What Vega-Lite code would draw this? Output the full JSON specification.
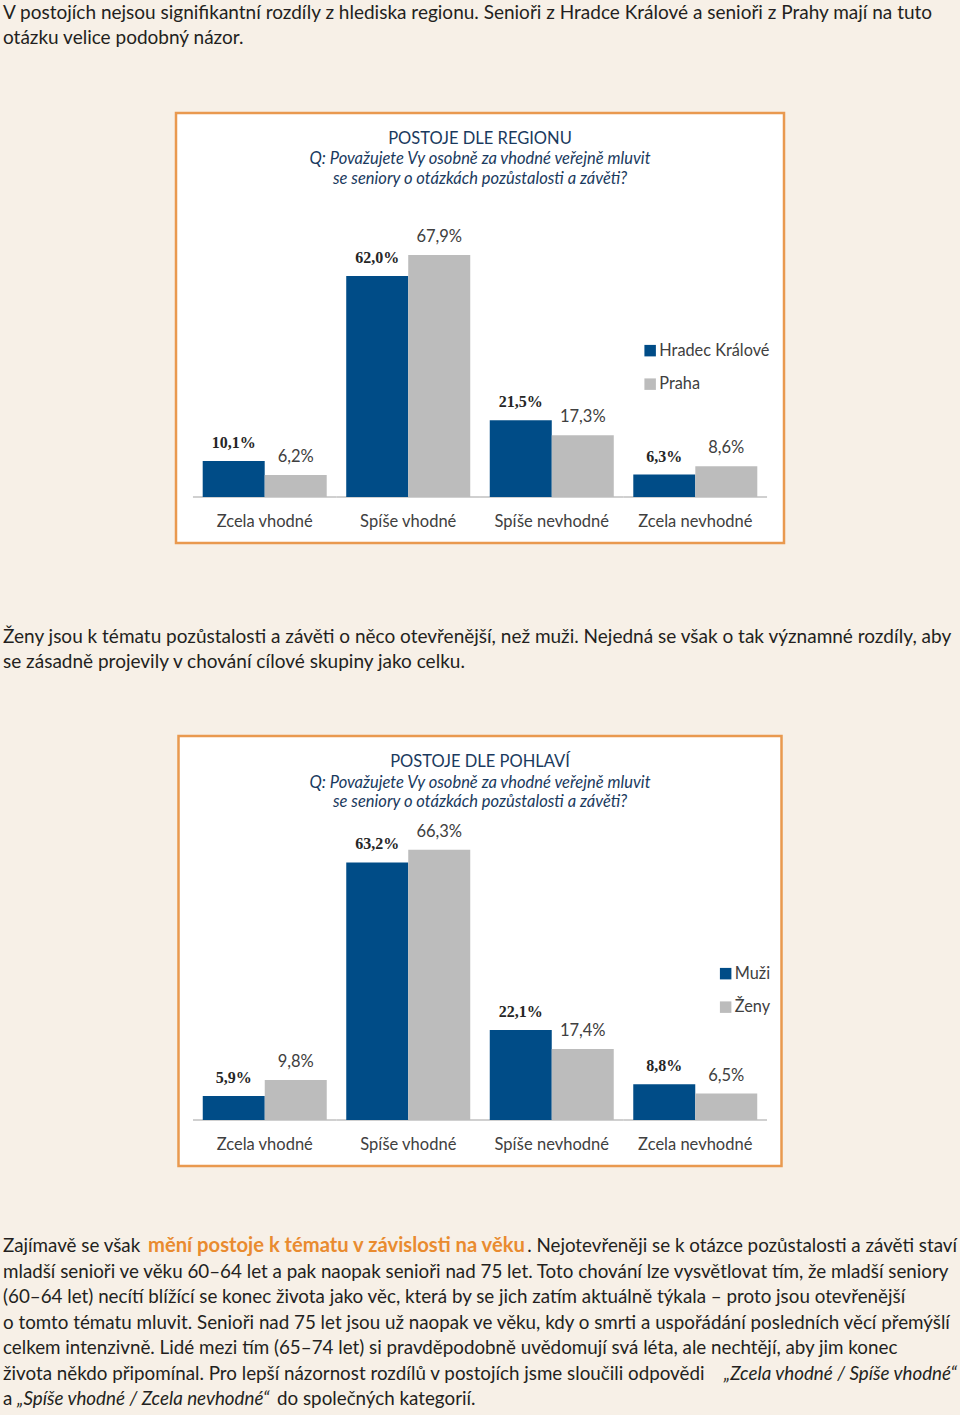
{
  "$schema": "https://vega.github.io/schema/vega-lite/v6.json",
  "background": "#f7f0e7",
  "padding": {"left": 3, "right": 3, "top": 0, "bottom": 0},
  "bounds": "flush",
  "center": true,
  "spacing": 0,
  "resolve": {"scale": {"color": "independent", "xOffset": "independent"}, "legend": {"color": "independent"}},
  "config": {
    "view": {"stroke": null},
    "locale": {"number": {"decimal": ",", "thousands": " ", "grouping": [3], "currency": ["", " Kč"]}},
    "axisX": {"offset": -46, "domain": false, "ticks": false, "tickSize": 0, "grid": false, "labelPadding": 16.5, "labelFont": "Lato", "labelFontSize": 16.5, "labelColor": "#404040", "labelAngle": 0}
  },
  "vconcat": [
    {
      "width": 954, "height": 113,
      "data": {"values": [{}]},
      "mark": {"type": "text", "align": "left", "baseline": "alphabetic", "font": "Lato", "fontSize": 19, "lineHeight": 25, "color": "#231f20"},
      "encoding": {
        "x": {"value": 0}, "y": {"value": 19},
        "text": {"value": ["V postojích nejsou signifikantní rozdíly z hlediska regionu. Senioři z Hradce Králové a senioři z Prahy mají na tuto", "otázku velice podobný názor."]}
      }
    },
    {
      "width": 608, "height": 430,
      "view": {"fill": "white", "stroke": "#e9994f", "strokeWidth": 2.5},
      "data": {"values": [
        {"cat": "Zcela vhodné", "series": "Hradec Králové", "value": 0.101},
        {"cat": "Zcela vhodné", "series": "Praha", "value": 0.062},
        {"cat": "Spíše vhodné", "series": "Hradec Králové", "value": 0.620},
        {"cat": "Spíše vhodné", "series": "Praha", "value": 0.679},
        {"cat": "Spíše nevhodné", "series": "Hradec Králové", "value": 0.215},
        {"cat": "Spíše nevhodné", "series": "Praha", "value": 0.173},
        {"cat": "Zcela nevhodné", "series": "Hradec Králové", "value": 0.063},
        {"cat": "Zcela nevhodné", "series": "Praha", "value": 0.086}
      ]},
      "layer": [
        {
          "transform": [{"filter": "datum.series === 'Hradec Králové'"}],
          "mark": {"type": "tick", "orient": "horizontal", "size": 143.5, "thickness": 1.5, "color": "#a6a6a6"},
          "encoding": {
            "x": {"field": "cat", "type": "nominal", "title": null, "scale": {"domain": ["Zcela vhodné", "Spíše vhodné", "Spíše nevhodné", "Zcela nevhodné"], "paddingInner": 0.136, "paddingOuter": 0.186}},
            "y": {"datum": 0, "type": "quantitative", "axis": null, "scale": {"domain": [-0.129, 1.0771], "nice": false, "zero": false}}
          }
        },
        {
          "mark": {"type": "bar"},
          "encoding": {
            "x": {"field": "cat", "type": "nominal", "title": null, "scale": {"domain": ["Zcela vhodné", "Spíše vhodné", "Spíše nevhodné", "Zcela nevhodné"], "paddingInner": 0.136, "paddingOuter": 0.186}},
            "xOffset": {"field": "series", "type": "nominal", "scale": {"domain": ["Hradec Králové", "Praha"], "paddingInner": 0, "paddingOuter": 0}},
            "y": {"field": "value", "type": "quantitative", "axis": null, "scale": {"domain": [-0.129, 1.0771], "nice": false, "zero": false}},
            "y2": {"datum": 0},
            "color": {"field": "series", "type": "nominal",
              "scale": {"domain": ["Hradec Králové", "Praha"], "range": ["#004c87", "#bcbcbc"]},
              "legend": {"orient": "none", "legendX": 466, "legendY": 229.5, "title": null, "symbolType": "square", "symbolSize": 132, "symbolStrokeWidth": 0, "labelFont": "Lato", "labelFontSize": 16.3, "labelColor": "#404040", "rowPadding": 16.5, "labelOffset": 1, "padding": 0}}
          }
        },
        {
          "transform": [{"filter": "datum.series === 'Hradec Králové'"}],
          "mark": {"type": "text", "font": "Liberation Serif", "fontSize": 16, "fontWeight": "bold", "color": "#262626", "baseline": "middle", "dy": -18},
          "encoding": {
            "x": {"field": "cat", "type": "nominal", "title": null, "scale": {"domain": ["Zcela vhodné", "Spíše vhodné", "Spíše nevhodné", "Zcela nevhodné"], "paddingInner": 0.136, "paddingOuter": 0.186}},
            "xOffset": {"field": "series", "type": "nominal", "scale": {"domain": ["Hradec Králové", "Praha"], "paddingInner": 0, "paddingOuter": 0}},
            "y": {"field": "value", "type": "quantitative", "axis": null, "scale": {"domain": [-0.129, 1.0771], "nice": false, "zero": false}},
            "text": {"field": "value", "type": "quantitative", "format": ".1%"}
          }
        },
        {
          "transform": [{"filter": "datum.series === 'Praha'"}],
          "mark": {"type": "text", "font": "Lato", "fontSize": 16.5, "color": "#404040", "baseline": "middle", "dy": -18},
          "encoding": {
            "x": {"field": "cat", "type": "nominal", "title": null, "scale": {"domain": ["Zcela vhodné", "Spíše vhodné", "Spíše nevhodné", "Zcela nevhodné"], "paddingInner": 0.136, "paddingOuter": 0.186}},
            "xOffset": {"field": "series", "type": "nominal", "scale": {"domain": ["Hradec Králové", "Praha"], "paddingInner": 0, "paddingOuter": 0}},
            "y": {"field": "value", "type": "quantitative", "axis": null, "scale": {"domain": [-0.129, 1.0771], "nice": false, "zero": false}},
            "text": {"field": "value", "type": "quantitative", "format": ".1%"}
          }
        },
        {
          "data": {"values": [{}]},
          "mark": {"type": "text", "font": "Lato", "fontSize": 16.5, "color": "#1a3a5e", "baseline": "middle"},
          "encoding": {
            "y": {"datum": 1.0042, "type": "quantitative", "axis": null, "scale": {"domain": [-0.129, 1.0771], "nice": false, "zero": false}},
            "text": {"value": "POSTOJE DLE REGIONU"}
          }
        },
        {
          "data": {"values": [{}]},
          "mark": {"type": "text", "font": "Lato", "fontSize": 16.5, "fontStyle": "italic", "color": "#1a3a5e", "baseline": "middle", "lineHeight": 20},
          "encoding": {
            "y": {"datum": 0.9481, "type": "quantitative", "axis": null, "scale": {"domain": [-0.129, 1.0771], "nice": false, "zero": false}},
            "text": {"value": ["Q: Považujete Vy osobně za vhodné veřejně mluvit", "se seniory o otázkách pozůstalosti a závěti?"]}
          }
        }
      ]
    },
    {
      "width": 954, "height": 193,
      "data": {"values": [{}]},
      "mark": {"type": "text", "align": "left", "baseline": "alphabetic", "font": "Lato", "fontSize": 19, "lineHeight": 25, "color": "#231f20"},
      "encoding": {
        "x": {"value": 0}, "y": {"value": 100},
        "text": {"value": ["Ženy jsou k tématu pozůstalosti a závěti o něco otevřenější, než muži. Nejedná se však o tak významné rozdíly, aby", "se zásadně projevily v chování cílové skupiny jako celku."]}
      }
    },
    {
      "width": 603, "height": 430,
      "view": {"fill": "white", "stroke": "#e9994f", "strokeWidth": 2.5},
      "data": {"values": [
        {"cat": "Zcela vhodné", "series": "Muži", "value": 0.059},
        {"cat": "Zcela vhodné", "series": "Ženy", "value": 0.098},
        {"cat": "Spíše vhodné", "series": "Muži", "value": 0.632},
        {"cat": "Spíše vhodné", "series": "Ženy", "value": 0.663},
        {"cat": "Spíše nevhodné", "series": "Muži", "value": 0.221},
        {"cat": "Spíše nevhodné", "series": "Ženy", "value": 0.174},
        {"cat": "Zcela nevhodné", "series": "Muži", "value": 0.088},
        {"cat": "Zcela nevhodné", "series": "Ženy", "value": 0.065}
      ]},
      "layer": [
        {
          "transform": [{"filter": "datum.series === 'Muži'"}],
          "mark": {"type": "tick", "orient": "horizontal", "size": 143.5, "thickness": 1.5, "color": "#a6a6a6"},
          "encoding": {
            "x": {"field": "cat", "type": "nominal", "title": null, "scale": {"domain": ["Zcela vhodné", "Spíše vhodné", "Spíše nevhodné", "Zcela nevhodné"], "paddingInner": 0.136, "paddingOuter": 0.169}},
            "y": {"datum": 0, "type": "quantitative", "axis": null, "scale": {"domain": [-0.1129, 0.9423], "nice": false, "zero": false}}
          }
        },
        {
          "mark": {"type": "bar"},
          "encoding": {
            "x": {"field": "cat", "type": "nominal", "title": null, "scale": {"domain": ["Zcela vhodné", "Spíše vhodné", "Spíše nevhodné", "Zcela nevhodné"], "paddingInner": 0.136, "paddingOuter": 0.169}},
            "xOffset": {"field": "series", "type": "nominal", "scale": {"domain": ["Muži", "Ženy"], "paddingInner": 0, "paddingOuter": 0}},
            "y": {"field": "value", "type": "quantitative", "axis": null, "scale": {"domain": [-0.1129, 0.9423], "nice": false, "zero": false}},
            "y2": {"datum": 0},
            "color": {"field": "series", "type": "nominal",
              "scale": {"domain": ["Muži", "Ženy"], "range": ["#004c87", "#bcbcbc"]},
              "legend": {"orient": "none", "legendX": 539, "legendY": 229.5, "title": null, "symbolType": "square", "symbolSize": 132, "symbolStrokeWidth": 0, "labelFont": "Lato", "labelFontSize": 16.3, "labelColor": "#404040", "rowPadding": 16.5, "labelOffset": 1, "padding": 0}}
          }
        },
        {
          "transform": [{"filter": "datum.series === 'Muži'"}],
          "mark": {"type": "text", "font": "Liberation Serif", "fontSize": 16, "fontWeight": "bold", "color": "#262626", "baseline": "middle", "dy": -18},
          "encoding": {
            "x": {"field": "cat", "type": "nominal", "title": null, "scale": {"domain": ["Zcela vhodné", "Spíše vhodné", "Spíše nevhodné", "Zcela nevhodné"], "paddingInner": 0.136, "paddingOuter": 0.169}},
            "xOffset": {"field": "series", "type": "nominal", "scale": {"domain": ["Muži", "Ženy"], "paddingInner": 0, "paddingOuter": 0}},
            "y": {"field": "value", "type": "quantitative", "axis": null, "scale": {"domain": [-0.1129, 0.9423], "nice": false, "zero": false}},
            "text": {"field": "value", "type": "quantitative", "format": ".1%"}
          }
        },
        {
          "transform": [{"filter": "datum.series === 'Ženy'"}],
          "mark": {"type": "text", "font": "Lato", "fontSize": 16.5, "color": "#404040", "baseline": "middle", "dy": -18},
          "encoding": {
            "x": {"field": "cat", "type": "nominal", "title": null, "scale": {"domain": ["Zcela vhodné", "Spíše vhodné", "Spíše nevhodné", "Zcela nevhodné"], "paddingInner": 0.136, "paddingOuter": 0.169}},
            "xOffset": {"field": "series", "type": "nominal", "scale": {"domain": ["Muži", "Ženy"], "paddingInner": 0, "paddingOuter": 0}},
            "y": {"field": "value", "type": "quantitative", "axis": null, "scale": {"domain": [-0.1129, 0.9423], "nice": false, "zero": false}},
            "text": {"field": "value", "type": "quantitative", "format": ".1%"}
          }
        },
        {
          "data": {"values": [{}]},
          "mark": {"type": "text", "font": "Lato", "fontSize": 16.5, "color": "#1a3a5e", "baseline": "middle"},
          "encoding": {
            "y": {"datum": 0.8785, "type": "quantitative", "axis": null, "scale": {"domain": [-0.1129, 0.9423], "nice": false, "zero": false}},
            "text": {"value": "POSTOJE DLE POHLAVÍ"}
          }
        },
        {
          "data": {"values": [{}]},
          "mark": {"type": "text", "font": "Lato", "fontSize": 16.5, "fontStyle": "italic", "color": "#1a3a5e", "baseline": "middle", "lineHeight": 19.5},
          "encoding": {
            "y": {"datum": 0.827, "type": "quantitative", "axis": null, "scale": {"domain": [-0.1129, 0.9423], "nice": false, "zero": false}},
            "text": {"value": ["Q: Považujete Vy osobně za vhodné veřejně mluvit", "se seniory o otázkách pozůstalosti a závěti?"]}
          }
        }
      ]
    },
    {
      "width": 954, "height": 249,
      "data": {"values": [{}]},
      "layer": [
        {
          "mark": {"type": "text", "align": "left", "baseline": "alphabetic", "font": "Lato", "fontSize": 18.8, "lineHeight": 25.5, "color": "#231f20"},
          "encoding": {
            "x": {"value": 0}, "y": {"value": 86},
            "text": {"value": ["Zajímavě se však", "mladší senioři ve věku 60–64 let a pak naopak senioři nad 75 let. Toto chování lze vysvětlovat tím, že mladší seniory", "(60–64 let) necítí blížící se konec života jako věc, která by se jich zatím aktuálně týkala – proto jsou otevřenější", "o tomto tématu mluvit. Senioři nad 75 let jsou už naopak ve věku, kdy o smrti a uspořádání posledních věcí přemýšlí", "celkem intenzivně. Lidé mezi tím (65–74 let) si pravděpodobně uvědomují svá léta, ale nechtějí, aby jim konec", "života někdo připomínal. Pro lepší názornost rozdílů v postojích jsme sloučili odpovědi", "a"]}
          }
        },
        {
          "mark": {"type": "text", "align": "left", "baseline": "alphabetic", "font": "Lato", "fontSize": 20.2, "fontWeight": "bold", "color": "#e98b2f", "dx": 145},
          "encoding": {
            "x": {"value": 0}, "y": {"value": 86},
            "text": {"value": "mění postoje k tématu v závislosti na věku"}
          }
        },
        {
          "mark": {"type": "text", "align": "right", "baseline": "alphabetic", "font": "Lato", "fontSize": 18.8, "color": "#231f20"},
          "encoding": {
            "x": {"value": "width"}, "y": {"value": 86},
            "text": {"value": ". Nejotevřeněji se k otázce pozůstalosti a závěti staví"}
          }
        },
        {
          "mark": {"type": "text", "align": "right", "baseline": "alphabetic", "font": "Lato", "fontSize": 18.8, "fontStyle": "italic", "color": "#231f20"},
          "encoding": {
            "x": {"value": "width"}, "y": {"value": 213.5},
            "text": {"value": "„Zcela vhodné / Spíše vhodné“"}
          }
        },
        {
          "mark": {"type": "text", "align": "left", "baseline": "alphabetic", "font": "Lato", "fontSize": 18.8, "fontStyle": "italic", "color": "#231f20", "dx": 14},
          "encoding": {
            "x": {"value": 0}, "y": {"value": 239},
            "text": {"value": "„Spíše vhodné / Zcela nevhodné“"}
          }
        },
        {
          "mark": {"type": "text", "align": "left", "baseline": "alphabetic", "font": "Lato", "fontSize": 18.8, "color": "#231f20", "dx": 274},
          "encoding": {
            "x": {"value": 0}, "y": {"value": 239},
            "text": {"value": "do společných kategorií."}
          }
        }
      ]
    }
  ]
}
